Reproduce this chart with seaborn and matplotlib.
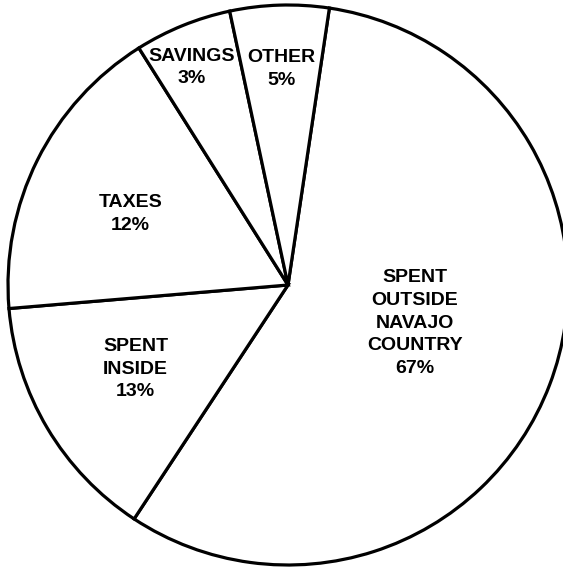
import matplotlib
matplotlib.use("Agg")
import matplotlib.pyplot as plt
import seaborn as sns

# slices, clockwise from the top
categories = ["SPENT\nOUTSIDE\nNAVAJO\nCOUNTRY", "SPENT\nINSIDE", "TAXES", "SAVINGS", "OTHER"]
pct_labels = ["67%", "13%", "12%", "3%", "5%"]
# wedge sizes as actually drawn in the scan (share of the circle, %)
wedge_share = [56.9, 14.4, 17.4, 5.6, 5.7]

# layout in pixels (origin top-left)
W, H = 563, 567
center_px = (288, 285)
radius_px = 280
label_px = [(415, 323), (135.5, 369), (130.5, 214), (191.5, 67.5), (281.5, 69)]

sns.set_theme(style="white")
plt.rcParams['font.family'] = ['Liberation Sans', 'DejaVu Sans']

fig = plt.figure(figsize=(W / 100, H / 100), dpi=100)
ax = fig.add_axes([0, 0, 1, 1])

labels = [f"{c}\n{p}" for c, p in zip(categories, pct_labels)]
wedges, texts = ax.pie(
    wedge_share, labels=labels, startangle=90 - 8.5, counterclock=False,
    center=(center_px[0], H - center_px[1]), radius=radius_px,
    wedgeprops=dict(facecolor="white", edgecolor="black", linewidth=2.3),
    textprops=dict(fontsize=14, color="black", fontweight="bold"),
)
for t, (x, y) in zip(texts, label_px):
    t.set_position((x, H - y))
    t.set_ha("center")
    t.set_va("center")
    t.set_multialignment("center")
    t.set_linespacing(1.43)

ax.set_xlim(0, W)
ax.set_ylim(0, H)
ax.axis("off")
fig.savefig("out.png", dpi=100)
